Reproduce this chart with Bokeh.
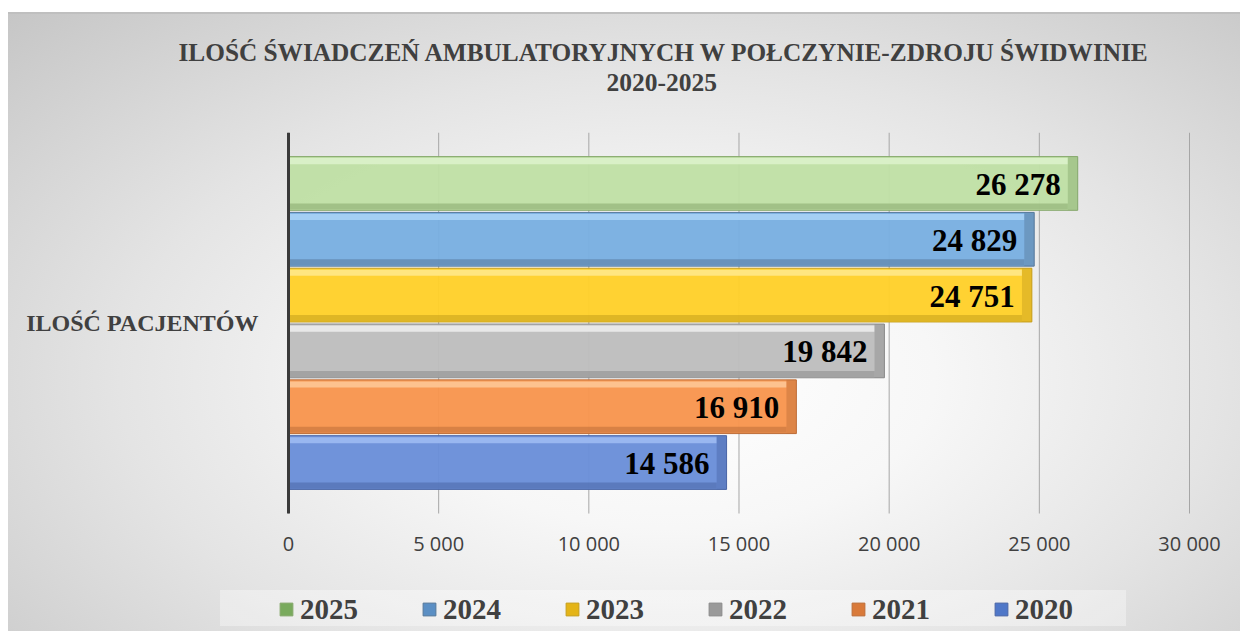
from bokeh.plotting import figure
from bokeh.models import (Range1d, FixedTicker, Title, Legend, LegendItem, LabelSet,
                          ColumnDataSource)
from bokeh.embed import file_html
from bokeh.resources import INLINE

# ---------------- data ----------------
title_line1 = "ILOŚĆ ŚWIADCZEŃ AMBULATORYJNYCH W POŁCZYNIE-ZDROJU  ŚWIDWINIE"
title_line2 = "2020-2025"
category = "ILOŚĆ PACJENTÓW"
years = ["2025", "2024", "2023", "2022", "2021", "2020"]
values = [26278, 24829, 24751, 19842, 16910, 14586]
x_ticks = [0, 5000, 10000, 15000, 20000, 25000, 30000]
x_tick_labels = ["0", "5 000", "10 000", "15 000", "20 000", "25 000", "30 000"]

base_colors = ["#bfe0a6", "#79afe1", "#ffd02a", "#bdbdbd", "#f8954e", "#6a8fd8"]
light_colors = ["#dcf2ca", "#a9d2f6", "#ffe888", "#ececec", "#fdc796", "#9dbbf2"]
dark_colors = ["#86a86c", "#56789a", "#c59e1c", "#8a8a8a", "#bd6d38", "#4a66a6"]
legend_colors = ["#79aa5d", "#5b8fc4", "#e4b417", "#9a9a9a", "#d97a3a", "#4f77c8"]

# ---------------- styles ----------------
PITCH = 0.1465
BAR_H = 0.141
STRIP = 0.016
END = 330
X_LOW, X_HIGH = -9589, 31698   # room left of the axis (category label) and right of 30 000
Y_LOW = -0.3097                # room under the bars for ticks + legend
SERIF = "Liberation Serif"
TXT = "#404040"

n = len(years)
ys = [0.5 + (2.5 - i) * PITCH for i in range(n)]
src = ColumnDataSource(dict(
    y=ys,
    y_top=[y + BAR_H / 2 - STRIP / 2 - 0.004 for y in ys],
    y_bot=[y - BAR_H / 2 + STRIP / 2 + 0.002 for y in ys],
    value=values,
    end_left=[v - END for v in values],
    base=base_colors, light=light_colors, dark=dark_colors, leg=legend_colors,
    label=[f"{v:,}".replace(",", " ") for v in values],
    year=years,
))
grid_src = ColumnDataSource(dict(x=x_ticks, y0=[0] * len(x_ticks), y1=[1] * len(x_ticks)))

bg = ", ".join([
    "linear-gradient(to right, #ffffff 0px, #ffffff 8px, rgba(255,255,255,0) 8px)",
    "linear-gradient(to bottom, #ffffff 0px, #ffffff 12px, #bfbfbf 12px, #bfbfbf 14px, "
    "rgba(255,255,255,0) 14px)",
    "linear-gradient(rgba(255,255,255,0.35), rgba(255,255,255,0.35)) 220px 590px / 906px 36px no-repeat",
    "radial-gradient(ellipse farthest-corner at 54% 60%, #ffffff 0%, #f7f7f7 28%, "
    "#e4e4e4 58%, #c4c4c4 100%)",
])

p = figure(width=1240, height=631, output_backend="svg", toolbar_location=None,
           x_range=Range1d(X_LOW, X_HIGH), y_range=Range1d(Y_LOW, 1),
           min_border_left=0, min_border_right=0, min_border_top=132,
           min_border_bottom=0, title=None, styles={"background": bg})
p.border_fill_color = None
p.background_fill_color = None
p.outline_line_color = None
p.xgrid.grid_line_color = None
p.ygrid.grid_line_color = None

# vertical gridlines (only across the bar area)
p.segment(x0="x", y0="y0", x1="x", y1="y1", source=grid_src,
          line_color="#a6a6a6", line_width=1)

# bars
p.hbar(y="y", left=0, right="value", height=BAR_H, source=src,
       fill_color="base", line_color="dark", line_width=1, fill_alpha=0.96)
p.hbar(y="y_top", left=0, right="end_left", height=STRIP, source=src,
       fill_color="light", line_color=None, fill_alpha=0.9)
p.hbar(y="y_bot", left=0, right="end_left", height=STRIP, source=src,
       fill_color="dark", line_color=None, fill_alpha=0.55)
p.hbar(y="y", left="end_left", right="value", height=BAR_H, source=src,
       fill_color="dark", line_color=None, fill_alpha=0.45)

# zero-width renderer that only supplies the legend swatches
swatch = p.hbar(y="y", left=0, right=0, height=BAR_H, source=src,
                fill_color="leg", line_color="dark", line_width=1)

# data labels
p.add_layout(LabelSet(x="value", y="y", text="label", source=src,
                      x_offset=-17, y_offset=-1, text_align="right",
                      text_baseline="middle", text_font=SERIF,
                      text_font_style="bold", text_font_size="31px",
                      text_color="#000000"))

# axes (drawn inside the frame at fixed positions)
xa = p.xaxis[0]
xa.fixed_location = 0
xa.bounds = (0, 30000)
xa.ticker = FixedTicker(ticks=x_ticks)
xa.major_label_overrides = {t: l for t, l in zip(x_ticks, x_tick_labels)}
xa.axis_line_color = None
xa.major_tick_line_color = None
xa.minor_tick_line_color = None
xa.major_label_text_font = "Open Sans"
xa.major_label_text_font_size = "20px"
xa.major_label_text_color = TXT
xa.major_label_standoff = 10

ya = p.yaxis[0]
ya.fixed_location = 0
ya.bounds = (0, 1)
ya.ticker = FixedTicker(ticks=[0.5])
ya.major_label_overrides = {0.5: category}
ya.axis_line_color = "#3a3a3a"
ya.axis_line_width = 3
ya.major_tick_line_color = None
ya.minor_tick_line_color = None
ya.major_label_text_font = SERIF
ya.major_label_text_font_style = "bold"
ya.major_label_text_font_size = "24px"
ya.major_label_text_color = TXT
ya.major_label_standoff = 24

# titles (spacer closest to the frame, then line 2, then line 1)
p.add_layout(Title(text=" ", standoff=11, text_font=SERIF, text_font_size="25px"), "above")
p.add_layout(Title(text=title_line2, align="left", offset=606, standoff=4,
                   text_font=SERIF, text_font_style="bold", text_font_size="25.5px",
                   text_color=TXT), "above")
p.add_layout(Title(text=title_line1, align="left", offset=178, standoff=8,
                   text_font=SERIF, text_font_style="bold", text_font_size="25.3px",
                   text_color=TXT), "above")

# legend (inside the frame, below the tick labels)
items = [LegendItem(label=years[i], renderers=[swatch], index=i) for i in range(n)]
leg = Legend(items=items, orientation="horizontal", location=(278, 5),
             glyph_width=16, glyph_height=16, label_standoff=6, label_width=60,
             label_height=34, spacing=61, padding=0, margin=0,
             label_text_font=SERIF, label_text_font_style="bold",
             label_text_font_size="29px", label_text_color=TXT,
             background_fill_alpha=0, border_line_color=None)
p.add_layout(leg, "center")

open("out.html", "w").write(file_html(p, INLINE))
